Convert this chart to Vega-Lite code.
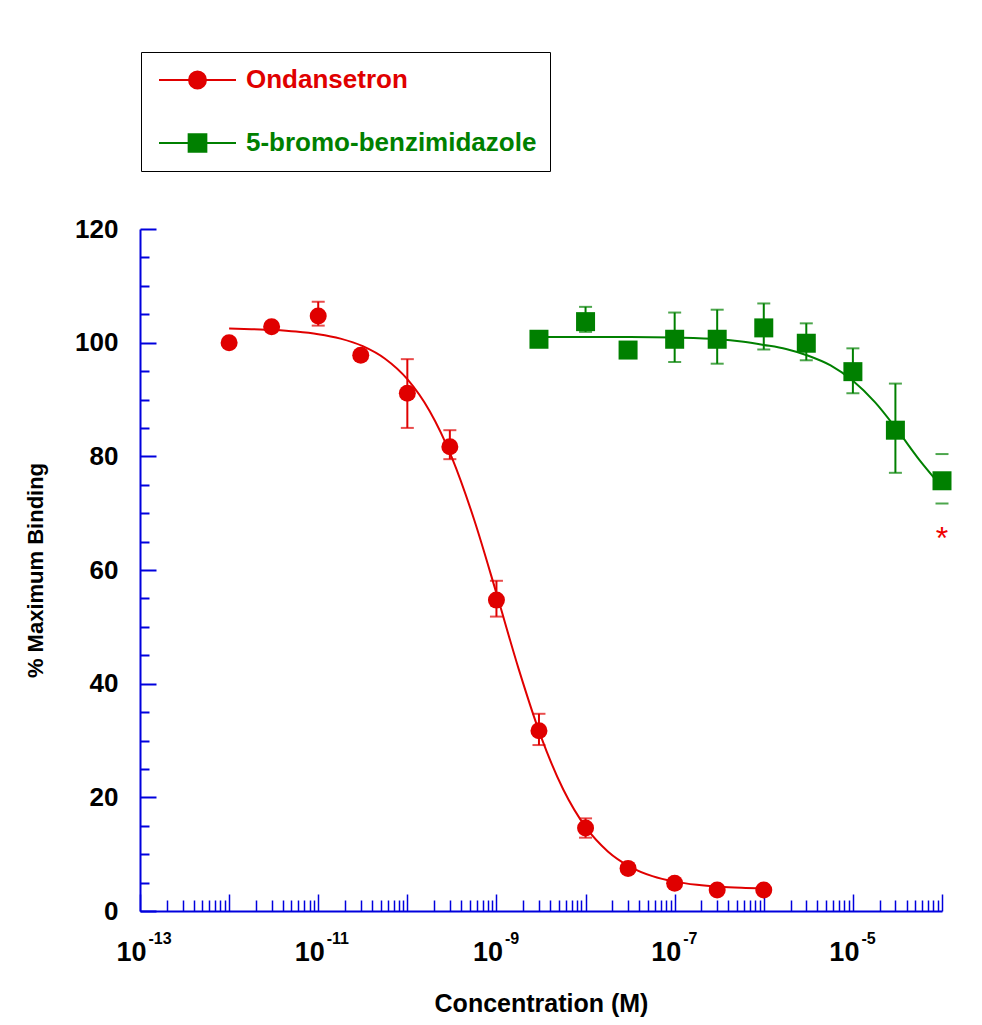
{
  "$schema": "https://vega.github.io/schema/vega-lite/v6.json",
  "width": 802,
  "height": 682,
  "autosize": "none",
  "padding": {"left": 140, "top": 229, "right": 40, "bottom": 114},
  "background": "white",
  "config": {"view": {"stroke": null}, "font": "Liberation Sans"},
  "resolve": {"axis": {"x": "independent"}},
  "datasets": {
    "curves": [
      {"series": "Ondansetron", "x": 1e-12, "y": 102.48},
      {"series": "Ondansetron", "x": 1.778e-12, "y": 102.38},
      {"series": "Ondansetron", "x": 3.162e-12, "y": 102.23},
      {"series": "Ondansetron", "x": 5.623e-12, "y": 101.96},
      {"series": "Ondansetron", "x": 1e-11, "y": 101.5},
      {"series": "Ondansetron", "x": 1.778e-11, "y": 100.71},
      {"series": "Ondansetron", "x": 3.162e-11, "y": 99.38},
      {"series": "Ondansetron", "x": 5.623e-11, "y": 97.17},
      {"series": "Ondansetron", "x": 1e-10, "y": 93.57},
      {"series": "Ondansetron", "x": 1.778e-10, "y": 87.97},
      {"series": "Ondansetron", "x": 3.162e-10, "y": 79.78},
      {"series": "Ondansetron", "x": 5.623e-10, "y": 68.85},
      {"series": "Ondansetron", "x": 1e-9, "y": 55.9},
      {"series": "Ondansetron", "x": 1.778e-9, "y": 42.56},
      {"series": "Ondansetron", "x": 3.162e-9, "y": 30.68},
      {"series": "Ondansetron", "x": 5.623e-9, "y": 21.37},
      {"series": "Ondansetron", "x": 1e-8, "y": 14.79},
      {"series": "Ondansetron", "x": 1.778e-8, "y": 10.48},
      {"series": "Ondansetron", "x": 3.162e-8, "y": 7.78},
      {"series": "Ondansetron", "x": 5.623e-8, "y": 6.14},
      {"series": "Ondansetron", "x": 1e-7, "y": 5.17},
      {"series": "Ondansetron", "x": 1.778e-7, "y": 4.6},
      {"series": "Ondansetron", "x": 3.162e-7, "y": 4.26},
      {"series": "Ondansetron", "x": 5.623e-7, "y": 4.07},
      {"series": "Ondansetron", "x": 1e-6, "y": 3.96},
      {"series": "5-bromo-benzimidazole", "x": 3e-9, "y": 101.0},
      {"series": "5-bromo-benzimidazole", "x": 1e-8, "y": 101.0},
      {"series": "5-bromo-benzimidazole", "x": 3.162e-8, "y": 101.0},
      {"series": "5-bromo-benzimidazole", "x": 1e-7, "y": 100.9},
      {"series": "5-bromo-benzimidazole", "x": 3.162e-7, "y": 100.6},
      {"series": "5-bromo-benzimidazole", "x": 5.623e-7, "y": 100.2},
      {"series": "5-bromo-benzimidazole", "x": 1e-6, "y": 99.6},
      {"series": "5-bromo-benzimidazole", "x": 1.778e-6, "y": 98.9},
      {"series": "5-bromo-benzimidazole", "x": 3.162e-6, "y": 97.7},
      {"series": "5-bromo-benzimidazole", "x": 5.623e-6, "y": 96.0},
      {"series": "5-bromo-benzimidazole", "x": 1e-5, "y": 93.3},
      {"series": "5-bromo-benzimidazole", "x": 1.778e-5, "y": 89.5},
      {"series": "5-bromo-benzimidazole", "x": 3.162e-5, "y": 84.6},
      {"series": "5-bromo-benzimidazole", "x": 5.623e-5, "y": 79.3},
      {"series": "5-bromo-benzimidazole", "x": 1e-4, "y": 74.6}
    ],
    "points": [
      {"series": "Ondansetron", "x": 1e-12, "y": 100.0},
      {"series": "Ondansetron", "x": 3e-12, "y": 102.8},
      {"series": "Ondansetron", "x": 1e-11, "y": 104.7},
      {"series": "Ondansetron", "x": 3e-11, "y": 97.8},
      {"series": "Ondansetron", "x": 1e-10, "y": 91.1},
      {"series": "Ondansetron", "x": 3e-10, "y": 81.7},
      {"series": "Ondansetron", "x": 1e-9, "y": 54.7},
      {"series": "Ondansetron", "x": 3e-9, "y": 31.7},
      {"series": "Ondansetron", "x": 1e-8, "y": 14.6},
      {"series": "Ondansetron", "x": 3e-8, "y": 7.5},
      {"series": "Ondansetron", "x": 1e-7, "y": 4.9},
      {"series": "Ondansetron", "x": 3e-7, "y": 3.7},
      {"series": "Ondansetron", "x": 1e-6, "y": 3.7},
      {"series": "5-bromo-benzimidazole", "x": 3e-9, "y": 100.6},
      {"series": "5-bromo-benzimidazole", "x": 1e-8, "y": 103.7},
      {"series": "5-bromo-benzimidazole", "x": 3e-8, "y": 98.7},
      {"series": "5-bromo-benzimidazole", "x": 1e-7, "y": 100.6},
      {"series": "5-bromo-benzimidazole", "x": 3e-7, "y": 100.6},
      {"series": "5-bromo-benzimidazole", "x": 1e-6, "y": 102.6},
      {"series": "5-bromo-benzimidazole", "x": 3e-6, "y": 99.9},
      {"series": "5-bromo-benzimidazole", "x": 1e-5, "y": 94.9},
      {"series": "5-bromo-benzimidazole", "x": 3e-5, "y": 84.6},
      {"series": "5-bromo-benzimidazole", "x": 1e-4, "y": 75.7}
    ],
    "errors": [
      {"series": "Ondansetron", "x": 1e-11, "lo": 103.0, "hi": 107.2},
      {"series": "Ondansetron", "x": 1e-10, "lo": 85.0, "hi": 97.1},
      {"series": "Ondansetron", "x": 3e-10, "lo": 79.5, "hi": 84.6},
      {"series": "Ondansetron", "x": 1e-9, "lo": 51.8, "hi": 58.1},
      {"series": "Ondansetron", "x": 3e-9, "lo": 29.2, "hi": 34.7},
      {"series": "Ondansetron", "x": 1e-8, "lo": 12.9, "hi": 16.3},
      {"series": "5-bromo-benzimidazole", "x": 1e-8, "lo": 101.9, "hi": 106.3},
      {"series": "5-bromo-benzimidazole", "x": 1e-7, "lo": 96.6, "hi": 105.3},
      {"series": "5-bromo-benzimidazole", "x": 3e-7, "lo": 96.3, "hi": 105.8},
      {"series": "5-bromo-benzimidazole", "x": 1e-6, "lo": 98.8, "hi": 106.9},
      {"series": "5-bromo-benzimidazole", "x": 3e-6, "lo": 96.9, "hi": 103.4},
      {"series": "5-bromo-benzimidazole", "x": 1e-5, "lo": 91.1, "hi": 99.0},
      {"series": "5-bromo-benzimidazole", "x": 3e-5, "lo": 77.1, "hi": 92.8},
      {"series": "5-bromo-benzimidazole", "x": 1e-4, "lo": 71.7, "hi": 80.4}
    ],
    "notes": [
      {"x": 1e-4, "y": 65.5, "label": "*"}
    ]
  },
  "encoding": {
    "y": {
      "field": "y",
      "type": "quantitative",
      "scale": {"domain": [0, 120], "nice": false},
      "axis": {
        "title": "% Maximum Binding",
        "values": [0,5,10,15,20,25,30,35,40,45,50,55,60,65,70,75,80,85,90,95,100,105,110,115,120],
        "labelExpr": "datum.value % 20 === 0 ? datum.label : ''",
        "tickSize": {"condition": {"test": "datum.value % 20 === 0", "value": -16}, "value": -9},
        "tickColor": "#0000dd",
        "tickWidth": 2,
        "domainColor": "#0000dd",
        "domainWidth": 2,
        "grid": false,
        "labelPadding": 38,
        "labelFont": "Liberation Sans",
        "labelFontSize": 26,
        "labelFontWeight": "bold",
        "labelColor": "black",
        "labelOverlap": false,
        "labelFlush": false,
        "labelBound": false,
        "titleFont": "Liberation Sans",
        "titleFontSize": 22,
        "titleFontWeight": "bold",
        "titleColor": "black",
        "titlePadding": 27
      }
    }
  },
  "layer": [
    {
      "data": {"name": "curves"},
      "mark": {"type": "line", "strokeWidth": 2, "interpolate": "monotone"},
      "encoding": {
        "x": {
          "field": "x",
          "type": "quantitative",
          "scale": {"type": "log", "domain": [1e-13, 1e-4], "nice": false},
          "axis": {
            "orient": "bottom",
            "title": "Concentration (M)",
            "values": [1e-13,2e-13,3e-13,4e-13,5e-13,6e-13,7e-13,8e-13,9e-13,
                       1e-12,2e-12,3e-12,4e-12,5e-12,6e-12,7e-12,8e-12,9e-12,
                       1e-11,2e-11,3e-11,4e-11,5e-11,6e-11,7e-11,8e-11,9e-11,
                       1e-10,2e-10,3e-10,4e-10,5e-10,6e-10,7e-10,8e-10,9e-10,
                       1e-9,2e-9,3e-9,4e-9,5e-9,6e-9,7e-9,8e-9,9e-9,
                       1e-8,2e-8,3e-8,4e-8,5e-8,6e-8,7e-8,8e-8,9e-8,
                       1e-7,2e-7,3e-7,4e-7,5e-7,6e-7,7e-7,8e-7,9e-7,
                       1e-6,2e-6,3e-6,4e-6,5e-6,6e-6,7e-6,8e-6,9e-6,
                       1e-5,2e-5,3e-5,4e-5,5e-5,6e-5,7e-5,8e-5,9e-5,1e-4],
            "labelExpr": "(abs(log(datum.value)/LN10+13)<0.01 || abs(log(datum.value)/LN10+11)<0.01 || abs(log(datum.value)/LN10+9)<0.01 || abs(log(datum.value)/LN10+7)<0.01 || abs(log(datum.value)/LN10+5)<0.01) ? '10' : ''",
            "tickSize": {"condition": {"test": "abs(log(datum.value)/LN10 - round(log(datum.value)/LN10)) < 0.001", "value": -17}, "value": -11},
            "tickColor": "#0000dd",
            "tickWidth": 1.5,
            "domainColor": "#0000dd",
            "domainWidth": 2,
            "grid": false,
            "labelPadding": 45,
            "labelOffset": -9,
            "labelFont": "Liberation Sans",
            "labelFontSize": 27,
            "labelFontWeight": "bold",
            "labelColor": "black",
            "labelOverlap": false,
            "labelFlush": false,
            "labelBound": false,
            "titleFont": "Liberation Sans",
            "titleFontSize": 25,
            "titleFontWeight": "bold",
            "titleColor": "black",
            "titlePadding": 20
          }
        },
        "color": {
          "field": "series",
          "type": "nominal",
          "scale": {"domain": ["Ondansetron", "5-bromo-benzimidazole"], "range": ["#e00000", "#008000"]},
          "legend": {
            "title": null,
            "orient": "none",
            "legendX": 1,
            "legendY": -177,
            "direction": "vertical",
            "fillColor": "white",
            "strokeColor": "black",
            "padding": 13,
            "symbolSize": 5929,
            "symbolStrokeWidth": 2,
            "symbolOffset": 4,
            "symbolOpacity": 1,
            "symbolType": {"expr": "datum.value === 'Ondansetron' ? 'M-1,0H1M-0.22,0A0.22,0.22,0,1,0,0.22,0A0.22,0.22,0,1,0,-0.22,0Z' : 'M-1,0H1M-0.23,-0.23H0.23V0.23H-0.23Z'"},
            "symbolFillColor": {"expr": "datum.value === 'Ondansetron' ? '#e00000' : '#008000'"},
            "symbolStrokeColor": {"expr": "datum.value === 'Ondansetron' ? '#e00000' : '#008000'"},
            "labelColor": {"expr": "datum.value === 'Ondansetron' ? '#e00000' : '#008000'"},
            "clipHeight": 30,
            "rowPadding": 33,
            "labelFont": "Liberation Sans",
            "labelFontSize": 26,
            "labelFontWeight": "bold",
            "labelOffset": 9,
            "labelLimit": 500
          }
        }
      }
    },
    {
      "data": {"name": "errors"},
      "transform": [{"filter": "datum.x < 5e-5"}],
      "mark": {"type": "rule", "strokeWidth": 2},
      "encoding": {
        "x": {"field": "x", "type": "quantitative", "axis": null},
        "y": {"field": "lo", "type": "quantitative"},
        "y2": {"field": "hi"},
        "color": {"field": "series", "type": "nominal", "legend": null}
      }
    },
    {
      "data": {"name": "errors"},
      "mark": {"type": "tick", "orient": "horizontal", "size": 13, "thickness": 2},
      "encoding": {
        "x": {"field": "x", "type": "quantitative", "axis": null},
        "y": {"field": "lo", "type": "quantitative"},
        "color": {"field": "series", "type": "nominal", "legend": null}
      }
    },
    {
      "data": {"name": "errors"},
      "mark": {"type": "tick", "orient": "horizontal", "size": 13, "thickness": 2},
      "encoding": {
        "x": {"field": "x", "type": "quantitative", "axis": null},
        "y": {"field": "hi", "type": "quantitative"},
        "color": {"field": "series", "type": "nominal", "legend": null}
      }
    },
    {
      "data": {"name": "points"},
      "transform": [{"filter": "datum.series === 'Ondansetron'"}],
      "mark": {"type": "point", "shape": "circle", "filled": true, "size": 289, "opacity": 1, "color": "#e00000"},
      "encoding": {
        "x": {"field": "x", "type": "quantitative", "axis": null}
      }
    },
    {
      "data": {"name": "points"},
      "transform": [{"filter": "datum.series === '5-bromo-benzimidazole'"}],
      "mark": {"type": "point", "shape": "square", "filled": true, "size": 361, "opacity": 1, "color": "#008000"},
      "encoding": {
        "x": {"field": "x", "type": "quantitative", "axis": null}
      }
    },
    {
      "data": {"name": "notes"},
      "mark": {"type": "text", "font": "Liberation Sans", "fontSize": 32, "color": "#f00000", "baseline": "middle", "align": "center"},
      "encoding": {
        "x": {
          "field": "x",
          "type": "quantitative",
          "axis": {
            "orient": "bottom",
            "title": null,
            "values": [1e-13, 1e-11, 1e-9, 1e-7, 1e-5],
            "labelExpr": "abs(log(datum.value)/LN10+13)<0.01 ? '-13' : abs(log(datum.value)/LN10+11)<0.01 ? '-11' : abs(log(datum.value)/LN10+9)<0.01 ? '-9' : abs(log(datum.value)/LN10+7)<0.01 ? '-7' : '-5'",
            "domain": false,
            "ticks": false,
            "grid": false,
            "labelAlign": "left",
            "labelBaseline": "top",
            "labelPadding": 19,
            "labelOffset": 8,
            "labelFont": "Liberation Sans",
            "labelFontSize": 16,
            "labelFontWeight": "bold",
            "labelColor": "black",
            "labelOverlap": false,
            "labelFlush": false,
            "labelBound": false
          }
        },
        "text": {"field": "label"}
      }
    }
  ]
}
